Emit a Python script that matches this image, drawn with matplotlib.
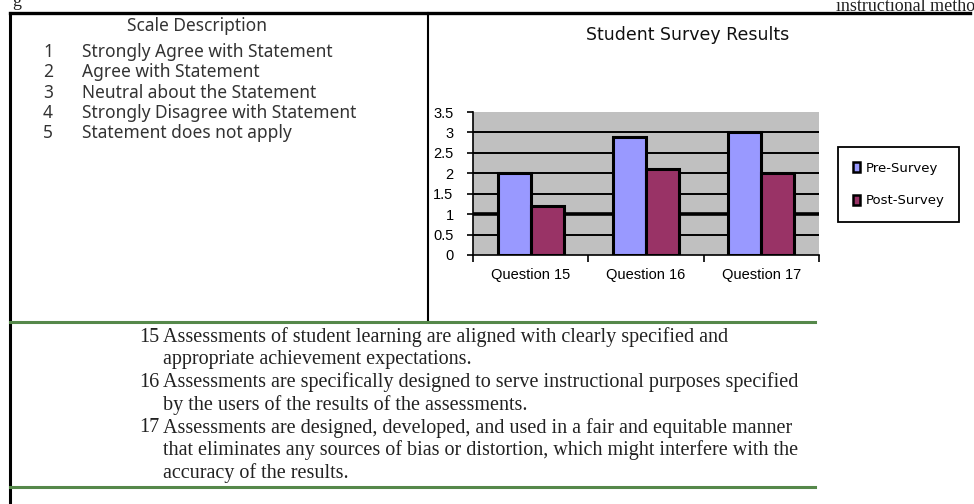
import matplotlib.pyplot as plt
from matplotlib.patches import Patch

questions = ['Question 15', 'Question 16', 'Question 17']
pre_survey = [2.0, 2.9, 3.0]
post_survey = [1.2, 2.1, 2.0]
y_ticks = [0, 0.5, 1, 1.5, 2, 2.5, 3, 3.5]
y_labels = ['0', '0.5', '1', '1.5', '2', '2.5', '3', '3.5']
series_names = ['Pre-Survey', 'Post-Survey']

scale_numbers = ['1', '2', '3', '4', '5']
scale_texts = ['Strongly Agree with Statement',
               'Agree with Statement',
               'Neutral about the Statement',
               'Strongly Disagree with Statement',
               'Statement does not apply']

statement_numbers = ['15', '', '16', '', '17', '', '']
statement_lines = [
    'Assessments of student learning are aligned with clearly specified and',
    'appropriate achievement expectations.',
    'Assessments are specifically designed to serve instructional purposes specified',
    'by the users of the results of the assessments.',
    'Assessments are designed, developed, and used in a fair and equitable manner',
    'that eliminates any sources of bias or distortion, which might interfere with the',
    'accuracy of the results.',
]

W, H = 974, 504
fig = plt.figure(figsize=(W / 100, H / 100), dpi=100)

# page layer in pixel coordinates
page = fig.add_axes([0, 0, 1, 1])
page.set_xlim(0, W)
page.set_ylim(H, 0)
page.axis('off')

page.plot([10, 970], [13, 13], color='black', lw=2.4)
page.plot([10, 10], [13, H], color='black', lw=2.2)
page.plot([428, 428], [13, 322], color='black', lw=1.5)
green = '#55884a'
page.plot([10, 815], [322, 322], color=green, lw=2.2)
page.plot([10, 815], [487, 487], color=green, lw=2.2)

# bits of the surrounding page text, clipped by the top edge as in the scan
page.text(836, 11, 'instructional methodol', family='Liberation Serif',
          fontsize=13, va='baseline', ha='left', color='#222222')
page.text(12, 6, 'g', family='Liberation Serif', fontsize=13,
          va='baseline', ha='left', color='#222222')

page.text(127, 26, 'Scale Description', family='Noto Sans', fontsize=12.5,
          ha='left', va='center', color='#333333')
for i, (num, txt) in enumerate(zip(scale_numbers, scale_texts)):
    y = 52 + i * 20.3
    page.text(48, y, num, family='Noto Sans', fontsize=12.5, ha='center',
              va='center', color='#333333')
    page.text(82, y, txt, family='Noto Sans', fontsize=12.5, ha='left',
              va='center', color='#333333')

for i, (num, txt) in enumerate(zip(statement_numbers, statement_lines)):
    y = 337 + i * 22.7
    if num:
        page.text(159, y, num, family='Liberation Serif', fontsize=14.5,
                  ha='right', va='center', color='#222222')
    page.text(163, y, txt, family='Liberation Serif', fontsize=14.5,
              ha='left', va='center', color='#222222')

page.text(688, 35, 'Student Survey Results', family='DejaVu Sans',
          fontsize=12.5, ha='center', va='center', color='#111111')

# bar chart
left, right, top, bottom = 473, 819, 112, 255
ax = fig.add_axes([left / W, 1 - bottom / H, (right - left) / W, (bottom - top) / H])
ax.set_facecolor('#c0c0c0')
ax.set_xlim(0, 3)
ax.set_ylim(0, 3.5)

for t in y_ticks[1:-1]:
    ax.axhline(t, color='black', lw=2.6 if t == 1 else 1.4, zorder=1)

centers = [i + 0.5 for i in range(len(questions))]
w = 0.285
b1 = ax.bar([c - w / 2 for c in centers], pre_survey, width=w,
            color='#9999ff', edgecolor='black', lw=2.2, zorder=2)
b2 = ax.bar([c + w / 2 for c in centers], post_survey, width=w,
            color='#993366', edgecolor='black', lw=2.2, zorder=2)

for s in ['top', 'right']:
    ax.spines[s].set_visible(False)
ax.spines['left'].set_linewidth(1.2)
ax.spines['bottom'].set_linewidth(1.2)

ax.set_yticks(y_ticks)
ax.set_yticklabels(y_labels, family='Liberation Sans', fontsize=10.5)
ax.tick_params(axis='y', length=4, width=1.2, pad=10)
ax.set_xticks([0, 1, 2, 3])
ax.set_xticklabels([])
ax.tick_params(axis='x', which='major', length=5, width=1.2, direction='out')
ax.set_xticks(centers, minor=True)
ax.set_xticklabels(questions, minor=True, family='Liberation Sans', fontsize=10.5)
ax.tick_params(axis='x', which='minor', length=0, pad=9)

handles = [Patch(facecolor='#9999ff', edgecolor='black', lw=1.8),
           Patch(facecolor='#993366', edgecolor='black', lw=1.8)]
leg = fig.legend(handles, series_names, loc='upper left',
                 bbox_to_anchor=(838 / W, 1 - 147 / H),
                 prop={'family': 'DejaVu Sans', 'size': 9.5},
                 fancybox=False, edgecolor='black', framealpha=1,
                 handlelength=0.6, handleheight=0.8, handletextpad=0.4,
                 labelspacing=1.5, borderpad=1.1, borderaxespad=0)
leg.get_frame().set_linewidth(1.3)

fig.savefig('out.png', dpi=100)
